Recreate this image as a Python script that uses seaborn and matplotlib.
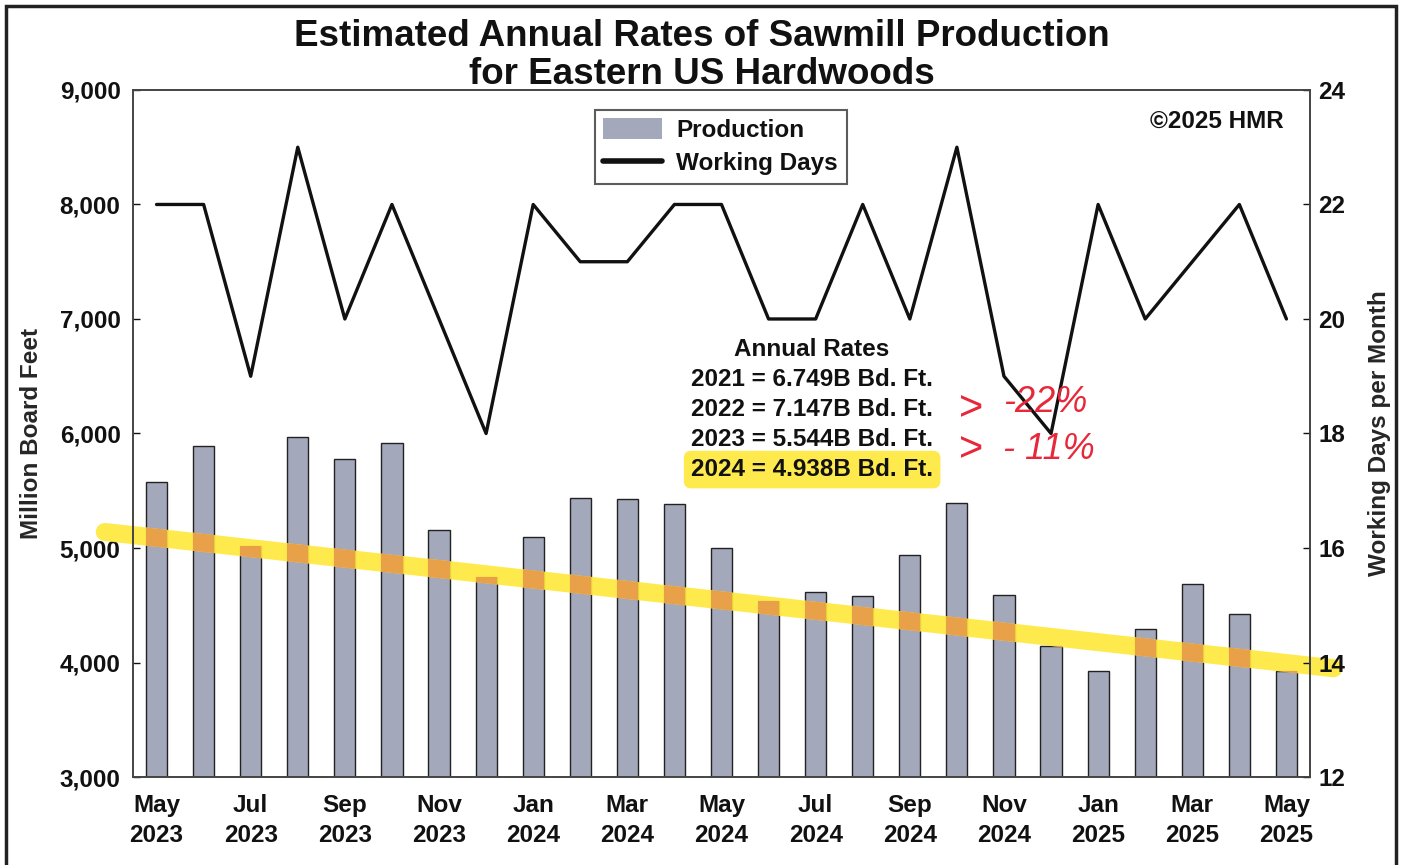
import numpy as np
import pandas as pd
import matplotlib
matplotlib.use("Agg")
import matplotlib.pyplot as plt
from matplotlib.patches import Rectangle
from matplotlib.lines import Line2D
import seaborn as sns

# data
months = ["May 2023", "Jun 2023", "Jul 2023", "Aug 2023", "Sep 2023", "Oct 2023",
          "Nov 2023", "Dec 2023", "Jan 2024", "Feb 2024", "Mar 2024", "Apr 2024",
          "May 2024", "Jun 2024", "Jul 2024", "Aug 2024", "Sep 2024", "Oct 2024",
          "Nov 2024", "Dec 2024", "Jan 2025", "Feb 2025", "Mar 2025", "Apr 2025",
          "May 2025"]
production = [5580, 5890, 5020, 5970, 5780, 5920, 5160, 4750, 5100, 5440, 5430, 5380,
              5000, 4540, 4620, 4580, 4940, 5390, 4590, 4140, 3930, 4290, 4690, 4420,
              3930]
working_days = [22, 22, 19, 23, 20, 22, 20, 18, 22, 21, 21, 22,
                22, 20, 20, 22, 20, 23, 19, 18, 22, 20, 21, 22, 20]
annual_rates = ["2021 = 6.749B Bd. Ft.", "2022 = 7.147B Bd. Ft.",
                "2023 = 5.544B Bd. Ft.", "2024 = 4.938B Bd. Ft."]
# hand-drawn highlighter trend (x in month index, y in million board feet)
trend_x = [-1.1, 25.0]
trend_y = [5140, 3950]

df = pd.DataFrame({"month": months, "production": production,
                   "days": working_days, "idx": np.arange(len(months))})

sns.set_style("white")
plt.rcParams["font.family"] = ["Liberation Sans", "DejaVu Sans"]
plt.rcParams["font.weight"] = "bold"
plt.rcParams["text.color"] = "#111111"
plt.rcParams["xtick.color"] = "#111111"
plt.rcParams["ytick.color"] = "#111111"

bar_color = "#a3a8ba"
fs = 17.5

fig = plt.figure(figsize=(14.03, 8.65), dpi=100)
ax = fig.add_axes([0.0948, 0.1017, 0.8389, 0.7943])

sns.barplot(data=df, x="month", y="production", order=months, color=bar_color,
            width=0.45, edgecolor="#222222", linewidth=1.0, saturation=1, ax=ax)

ax.set_ylim(3000, 9000)
ax.set_xlim(-0.5, len(months) - 0.5)
ax.set_yticks([3000, 4000, 5000, 6000, 7000, 8000, 9000])
ax.set_yticklabels([f"{v:,}" for v in range(3000, 9001, 1000)], fontsize=fs, fontweight="bold")
ax.set_xticks(np.arange(0, len(months), 2))
ax.set_xticklabels([m.replace(" ", "\n") for m in months[::2]], fontsize=fs,
                   fontweight="bold", linespacing=1.4)
ax.set_xticks(np.arange(1.5, len(months) - 1, 2), minor=True)
ax.tick_params(axis="x", which="major", length=0, pad=12)
ax.tick_params(axis="x", which="minor", length=6, direction="in", width=1)
ax.tick_params(axis="y", length=5, direction="in", width=1, pad=9)
ax.set_xlabel("")
ax.set_ylabel("Million Board Feet", fontsize=fs, fontweight="bold", labelpad=12)
for s in ax.spines.values():
    s.set_color("#444444")
    s.set_linewidth(1.2)

# highlighter: yellow over white, orange where it crosses the bars
ax.plot(trend_x, trend_y, color="#ffe83a", lw=13, alpha=0.9, solid_capstyle="round",
        zorder=1.5, clip_on=False)
for p in list(ax.patches):
    ln, = ax.plot(trend_x, trend_y, color="#e8964a", lw=13, zorder=2.5, alpha=0.85)
    ln.set_clip_path(p)

ax2 = ax.twinx()
sns.lineplot(data=df, x="idx", y="days", color="#111111", linewidth=2.4, ax=ax2)
ax2.set_ylim(12, 24)
ax2.set_yticks(range(12, 25, 2))
ax2.set_yticklabels([str(v) for v in range(12, 25, 2)], fontsize=fs, fontweight="bold")
ax2.tick_params(axis="y", length=5, direction="in", width=1, pad=6)
ax2.set_ylabel("Working Days per Month", fontsize=fs, fontweight="bold", labelpad=16)
ax2.set_xlabel("")
ax.set_xlim(-0.5, len(months) - 0.5)
for s in ax2.spines.values():
    s.set_color("#444444")
    s.set_linewidth(1.2)

handles = [Rectangle((0, 0), 1, 1, facecolor=bar_color, edgecolor="none"),
           Line2D([0], [0], color="#111111", lw=4)]
leg = ax2.legend(handles, ["Production", "Working Days"], loc="upper left",
                 bbox_to_anchor=(0.3925, 0.971), borderaxespad=0, frameon=True,
                 fancybox=False, fontsize=fs, handlelength=2.4, handleheight=0.9,
                 borderpad=0.35, labelspacing=0.4, handletextpad=0.6)
leg.get_frame().set_edgecolor("#333333")
leg.get_frame().set_linewidth(1.5)
for t in leg.get_texts():
    t.set_fontweight("bold")

ax2.text(0.978, 0.955, "©2025 HMR", transform=ax2.transAxes, ha="right", va="center",
         fontsize=fs, fontweight="bold")

# annual rates box
ax2.text(0.577, 0.622, "Annual Rates", transform=ax2.transAxes, ha="center",
         va="center", fontsize=fs, fontweight="bold")
for i, line in enumerate(annual_rates):
    kw = {}
    if i == len(annual_rates) - 1:
        kw["bbox"] = dict(boxstyle="round,pad=0.3", facecolor="#ffe83a",
                          edgecolor="none", alpha=0.9)
    ax2.text(0.577, 0.578 - i * 0.0435, line, transform=ax2.transAxes, ha="center",
             va="center", fontsize=fs, fontweight="bold", **kw)

# handwritten notes
red = "#e8283a"
for yy in (0.535, 0.476):
    ax2.text(0.712, yy, ">", transform=ax2.transAxes, ha="center", va="center",
             fontsize=30, color=red, fontweight="normal")
ax2.text(0.775, 0.545, "-22%", transform=ax2.transAxes, ha="center", va="center",
         fontsize=26, color=red, fontweight="normal", style="italic")
ax2.text(0.778, 0.476, "- 11%", transform=ax2.transAxes, ha="center", va="center",
         fontsize=26, color=red, fontweight="normal", style="italic")

fig.suptitle("Estimated Annual Rates of Sawmill Production\nfor Eastern US Hardwoods",
             y=0.978, fontsize=26.5, fontweight="bold", color="#111111",
             linespacing=1.1)

fig.add_artist(Rectangle((0.004, -0.02), 0.991, 1.013, transform=fig.transFigure,
                         facecolor="none", edgecolor="#222222", lw=2.5))

fig.savefig("out.png", dpi=100)
